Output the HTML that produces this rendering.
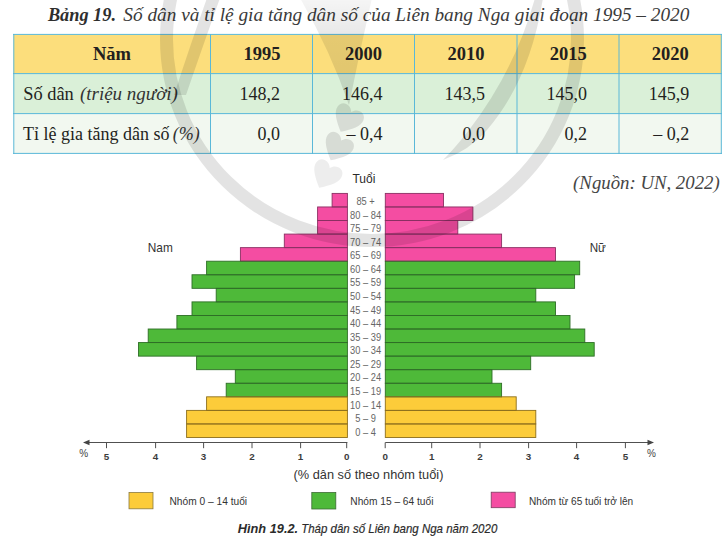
<!DOCTYPE html>
<html><head><meta charset="utf-8"><style>
html,body{margin:0;padding:0;background:#fff;}
body{width:727px;height:544px;overflow:hidden;position:relative;}
svg{position:absolute;left:0;top:0;}
.serif{font-family:"Liberation Serif","DejaVu Serif",serif;}
.sans{font-family:"Liberation Sans","DejaVu Sans",sans-serif;}
</style></head><body>
<svg width="727" height="544" viewBox="0 0 727 544">
<!-- title -->
<text class="serif" x="47.9" y="20.6" font-style="italic" fill="#2e2e2e" font-size="19.3"><tspan font-weight="bold" font-size="18.3">Bảng 19.</tspan><tspan dx="2.5" fill="#3a3a3a"> Số dân và tỉ lệ gia tăng dân số của Liên bang Nga giai đoạn 1995 – 2020</tspan></text>
<!-- table -->
<rect x="13.5" y="34.5" width="708" height="39" fill="#fcde7c"/>
<rect x="13.5" y="73.5" width="708" height="40" fill="#daf0d8"/>
<rect x="13.5" y="113.5" width="708" height="40" fill="#f2f8f0"/>
<g stroke="#5ab8d8" stroke-width="1" fill="none">
<line x1="13" y1="34.4" x2="722" y2="34.4"/>
<line x1="13" y1="73.6" x2="722" y2="73.6"/>
<line x1="13" y1="113.6" x2="722" y2="113.6"/>
<line x1="13" y1="153.4" x2="722" y2="153.4"/>
<line x1="13.8" y1="34" x2="13.8" y2="154"/>
<line x1="210.5" y1="34" x2="210.5" y2="154"/>
<line x1="312.5" y1="34" x2="312.5" y2="154"/>
<line x1="414.5" y1="34" x2="414.5" y2="154"/>
<line x1="517" y1="34" x2="517" y2="154"/>
<line x1="619" y1="34" x2="619" y2="154"/>
<line x1="721.3" y1="34" x2="721.3" y2="154"/>
</g>
<g class="serif" font-size="18" fill="#231f20">
<g font-weight="bold" text-anchor="middle" font-size="18.5">
<text x="111.9" y="59.6">Năm</text>
<text x="262.1" y="60.1">1995</text>
<text x="363.6" y="60.1">2000</text>
<text x="466" y="60.1">2010</text>
<text x="568.2" y="60.1">2015</text>
<text x="670.2" y="60.1">2020</text>
</g>
<text x="23.2" y="100.4" font-size="18.4">Số dân <tspan font-style="italic" font-size="19" dx="1.5" fill="#333">(triệu người)</tspan></text>
<text x="23" y="139.8">Tỉ lệ gia tăng dân số <tspan font-style="italic" dx="-1.3" fill="#333">(%)</tspan></text>
<g text-anchor="end">
<text x="280" y="100.4">148,2</text>
<text x="382.4" y="100.4">146,4</text>
<text x="484.9" y="100.4">143,5</text>
<text x="586.9" y="100.4">145,0</text>
<text x="689.3" y="100.4">145,9</text>
<text x="280" y="139.8">0,0</text>
<text x="382.4" y="139.8">– 0,4</text>
<text x="484.9" y="139.8">0,0</text>
<text x="586.9" y="139.8">0,2</text>
<text x="689.3" y="139.8">– 0,2</text>
</g>
</g>
<text class="serif" x="719.7" y="188.5" text-anchor="end" font-style="italic" font-size="18.8" fill="#454545">(Nguồn: UN, 2022)</text>
<!-- chart -->
<rect x="332.1" y="193.40" width="15.3" height="13.56" fill="#f44da2"/><rect x="385.3" y="193.40" width="58.2" height="13.56" fill="#f44da2"/><rect x="317.6" y="206.96" width="29.8" height="13.56" fill="#f44da2"/><rect x="385.3" y="206.96" width="87.6" height="13.56" fill="#f44da2"/><rect x="317.6" y="220.52" width="29.8" height="13.56" fill="#f44da2"/><rect x="385.3" y="220.52" width="72.5" height="13.56" fill="#f44da2"/><rect x="284.3" y="234.08" width="63.1" height="13.56" fill="#f44da2"/><rect x="385.3" y="234.08" width="116.3" height="13.56" fill="#f44da2"/><rect x="240.4" y="247.64" width="107.0" height="13.56" fill="#f44da2"/><rect x="385.3" y="247.64" width="170.2" height="13.56" fill="#f44da2"/><rect x="206.6" y="261.21" width="140.8" height="13.56" fill="#4eb939"/><rect x="385.3" y="261.21" width="194.4" height="13.56" fill="#4eb939"/><rect x="192.0" y="274.77" width="155.4" height="13.56" fill="#4eb939"/><rect x="385.3" y="274.77" width="189.3" height="13.56" fill="#4eb939"/><rect x="216.2" y="288.33" width="131.2" height="13.56" fill="#4eb939"/><rect x="385.3" y="288.33" width="150.5" height="13.56" fill="#4eb939"/><rect x="192.0" y="301.89" width="155.4" height="13.56" fill="#4eb939"/><rect x="385.3" y="301.89" width="170.2" height="13.56" fill="#4eb939"/><rect x="176.9" y="315.45" width="170.5" height="13.56" fill="#4eb939"/><rect x="385.3" y="315.45" width="184.7" height="13.56" fill="#4eb939"/><rect x="148.2" y="329.01" width="199.2" height="13.56" fill="#4eb939"/><rect x="385.3" y="329.01" width="199.5" height="13.56" fill="#4eb939"/><rect x="138.5" y="342.57" width="208.9" height="13.56" fill="#4eb939"/><rect x="385.3" y="342.57" width="208.9" height="13.56" fill="#4eb939"/><rect x="196.6" y="356.13" width="150.8" height="13.56" fill="#4eb939"/><rect x="385.3" y="356.13" width="145.4" height="13.56" fill="#4eb939"/><rect x="235.3" y="369.69" width="112.1" height="13.56" fill="#4eb939"/><rect x="385.3" y="369.69" width="106.7" height="13.56" fill="#4eb939"/><rect x="226.2" y="383.26" width="121.2" height="13.56" fill="#4eb939"/><rect x="385.3" y="383.26" width="116.3" height="13.56" fill="#4eb939"/><rect x="206.6" y="396.82" width="140.8" height="13.56" fill="#fccc3a"/><rect x="385.3" y="396.82" width="130.9" height="13.56" fill="#fccc3a"/><rect x="186.6" y="410.38" width="160.8" height="13.56" fill="#fccc3a"/><rect x="385.3" y="410.38" width="150.5" height="13.56" fill="#fccc3a"/><rect x="186.6" y="423.94" width="160.8" height="13.56" fill="#fccc3a"/><rect x="385.3" y="423.94" width="150.5" height="13.56" fill="#fccc3a"/>
<g fill="none" stroke-width="0.9"><rect x="332.1" y="193.40" width="15.3" height="13.56" stroke="#8a2f62"/><rect x="385.3" y="193.40" width="58.2" height="13.56" stroke="#8a2f62"/><rect x="317.6" y="206.96" width="29.8" height="13.56" stroke="#8a2f62"/><rect x="385.3" y="206.96" width="87.6" height="13.56" stroke="#8a2f62"/><rect x="317.6" y="220.52" width="29.8" height="13.56" stroke="#8a2f62"/><rect x="385.3" y="220.52" width="72.5" height="13.56" stroke="#8a2f62"/><rect x="284.3" y="234.08" width="63.1" height="13.56" stroke="#8a2f62"/><rect x="385.3" y="234.08" width="116.3" height="13.56" stroke="#8a2f62"/><rect x="240.4" y="247.64" width="107.0" height="13.56" stroke="#8a2f62"/><rect x="385.3" y="247.64" width="170.2" height="13.56" stroke="#8a2f62"/><rect x="206.6" y="261.21" width="140.8" height="13.56" stroke="#2e6e26"/><rect x="385.3" y="261.21" width="194.4" height="13.56" stroke="#2e6e26"/><rect x="192.0" y="274.77" width="155.4" height="13.56" stroke="#2e6e26"/><rect x="385.3" y="274.77" width="189.3" height="13.56" stroke="#2e6e26"/><rect x="216.2" y="288.33" width="131.2" height="13.56" stroke="#2e6e26"/><rect x="385.3" y="288.33" width="150.5" height="13.56" stroke="#2e6e26"/><rect x="192.0" y="301.89" width="155.4" height="13.56" stroke="#2e6e26"/><rect x="385.3" y="301.89" width="170.2" height="13.56" stroke="#2e6e26"/><rect x="176.9" y="315.45" width="170.5" height="13.56" stroke="#2e6e26"/><rect x="385.3" y="315.45" width="184.7" height="13.56" stroke="#2e6e26"/><rect x="148.2" y="329.01" width="199.2" height="13.56" stroke="#2e6e26"/><rect x="385.3" y="329.01" width="199.5" height="13.56" stroke="#2e6e26"/><rect x="138.5" y="342.57" width="208.9" height="13.56" stroke="#2e6e26"/><rect x="385.3" y="342.57" width="208.9" height="13.56" stroke="#2e6e26"/><rect x="196.6" y="356.13" width="150.8" height="13.56" stroke="#2e6e26"/><rect x="385.3" y="356.13" width="145.4" height="13.56" stroke="#2e6e26"/><rect x="235.3" y="369.69" width="112.1" height="13.56" stroke="#2e6e26"/><rect x="385.3" y="369.69" width="106.7" height="13.56" stroke="#2e6e26"/><rect x="226.2" y="383.26" width="121.2" height="13.56" stroke="#2e6e26"/><rect x="385.3" y="383.26" width="116.3" height="13.56" stroke="#2e6e26"/><rect x="206.6" y="396.82" width="140.8" height="13.56" stroke="#8c6e1c"/><rect x="385.3" y="396.82" width="130.9" height="13.56" stroke="#8c6e1c"/><rect x="186.6" y="410.38" width="160.8" height="13.56" stroke="#8c6e1c"/><rect x="385.3" y="410.38" width="150.5" height="13.56" stroke="#8c6e1c"/><rect x="186.6" y="423.94" width="160.8" height="13.56" stroke="#8c6e1c"/><rect x="385.3" y="423.94" width="150.5" height="13.56" stroke="#8c6e1c"/></g>
<g class="sans" font-size="10" fill="#666" text-anchor="middle"><text transform="translate(365.6,205.08) scale(0.93,1)">85 +</text><text transform="translate(365.6,218.64) scale(0.93,1)">80 – 84</text><text transform="translate(365.6,232.20) scale(0.93,1)">75 – 79</text><text transform="translate(365.6,245.76) scale(0.93,1)">70 – 74</text><text transform="translate(365.6,259.32) scale(0.93,1)">65 – 69</text><text transform="translate(365.6,272.89) scale(0.93,1)">60 – 64</text><text transform="translate(365.6,286.45) scale(0.93,1)">55 – 59</text><text transform="translate(365.6,300.01) scale(0.93,1)">50 – 54</text><text transform="translate(365.6,313.57) scale(0.93,1)">45 – 49</text><text transform="translate(365.6,327.13) scale(0.93,1)">40 – 44</text><text transform="translate(365.6,340.69) scale(0.93,1)">35 – 39</text><text transform="translate(365.6,354.25) scale(0.93,1)">30 – 34</text><text transform="translate(365.6,367.81) scale(0.93,1)">25 – 29</text><text transform="translate(365.6,381.38) scale(0.93,1)">20 – 24</text><text transform="translate(365.6,394.94) scale(0.93,1)">15 – 19</text><text transform="translate(365.6,408.50) scale(0.93,1)">10 – 14</text><text transform="translate(365.6,422.06) scale(0.93,1)">5 – 9</text><text transform="translate(365.6,435.62) scale(0.93,1)">0 – 4</text></g>
<text class="sans" x="363.9" y="183.3" font-size="12" fill="#2b2b2b" text-anchor="middle">Tuổi</text>
<text class="sans" x="160.3" y="252.2" font-size="12.2" fill="#333" text-anchor="middle" textLength="25" lengthAdjust="spacingAndGlyphs">Nam</text>
<text class="sans" x="597.8" y="252.3" font-size="12.2" fill="#333" text-anchor="middle" textLength="16.2" lengthAdjust="spacingAndGlyphs">Nữ</text>
<!-- axis -->
<g stroke="#505050" stroke-width="1" fill="none">
<line x1="88" y1="442.5" x2="347.4" y2="442.5"/>
<line x1="385.3" y1="442.5" x2="649" y2="442.5"/>
<line x1="346.7" y1="442.5" x2="346.7" y2="448.2"/><line x1="385.2" y1="442.5" x2="385.2" y2="448.2"/><line x1="300.6" y1="442.5" x2="300.6" y2="448.2"/><line x1="431.7" y1="442.5" x2="431.7" y2="448.2"/><line x1="252.0" y1="442.5" x2="252.0" y2="448.2"/><line x1="480.0" y1="442.5" x2="480.0" y2="448.2"/><line x1="203.6" y1="442.5" x2="203.6" y2="448.2"/><line x1="528.6" y1="442.5" x2="528.6" y2="448.2"/><line x1="155.6" y1="442.5" x2="155.6" y2="448.2"/><line x1="576.6" y1="442.5" x2="576.6" y2="448.2"/><line x1="106.5" y1="442.5" x2="106.5" y2="448.2"/><line x1="625.4" y1="442.5" x2="625.4" y2="448.2"/>
</g>
<path d="M83 442.5 L89.5 439.8 L89.5 445.2 Z" fill="#444"/>
<path d="M654 442.5 L647.5 439.8 L647.5 445.2 Z" fill="#444"/>
<g class="sans" font-size="9.8" font-weight="bold" fill="#3c3c3c" text-anchor="middle"><text x="346.7" y="459.8">0</text><text x="385.2" y="459.8">0</text><text x="300.6" y="459.8">1</text><text x="431.7" y="459.8">1</text><text x="252.0" y="459.8">2</text><text x="480.0" y="459.8">2</text><text x="203.6" y="459.8">3</text><text x="528.6" y="459.8">3</text><text x="155.6" y="459.8">4</text><text x="576.6" y="459.8">4</text><text x="106.5" y="459.8">5</text><text x="625.4" y="459.8">5</text></g>
<text class="sans" x="83.8" y="457" font-size="10" fill="#444" text-anchor="middle">%</text>
<text class="sans" x="651.5" y="457" font-size="10" fill="#444" text-anchor="middle">%</text>
<text class="sans" x="293.6" y="479.3" font-size="12" fill="#333" textLength="149.8" lengthAdjust="spacingAndGlyphs">(% dân số theo nhóm tuổi)</text>
<!-- legend -->
<rect x="129" y="492.5" width="24" height="16.3" fill="#fccc3a" stroke="#8a7a40" stroke-width="0.8"/>
<rect x="311.8" y="492.5" width="24" height="16.5" fill="#4eb939" stroke="#3d6b35" stroke-width="0.8"/>
<rect x="491.2" y="492.2" width="24" height="15.5" fill="#f44da2" stroke="#7a3d60" stroke-width="0.8"/>
<g class="sans" font-size="10.6" fill="#333">
<text x="169.5" y="505" textLength="77.6" lengthAdjust="spacingAndGlyphs">Nhóm 0 – 14 tuổi</text>
<text x="350.3" y="505" textLength="83.1" lengthAdjust="spacingAndGlyphs">Nhóm 15 – 64 tuổi</text>
<text x="529" y="505" textLength="104.2" lengthAdjust="spacingAndGlyphs">Nhóm từ 65 tuổi trở lên</text>
</g>
<text class="sans" x="237.8" y="532.5" font-size="13.2" font-style="italic" fill="#2b2b2b"><tspan font-weight="bold" textLength="60.3" lengthAdjust="spacingAndGlyphs">Hình 19.2.</tspan><tspan x="301.2" textLength="196.1" lengthAdjust="spacingAndGlyphs" stroke="#2b2b2b" stroke-width="0.2">Tháp dân số Liên bang Nga năm 2020</tspan></text>
<!-- watermark -->
<defs><linearGradient id="wg" x1="0" y1="0" x2="0" y2="105" gradientUnits="userSpaceOnUse"><stop offset="0" stop-color="#000" stop-opacity="0.04"/><stop offset="0.33" stop-color="#000" stop-opacity="0.09"/><stop offset="1" stop-color="#000" stop-opacity="0.12"/></linearGradient></defs>
<g fill="#000" fill-opacity="0.11" stroke="none">
<ellipse cx="372" cy="39" rx="205.5" ry="201.5" fill="none" stroke="#000" stroke-opacity="0.11" stroke-width="13"/>
<path d="M 207 -2 L 220 -2 Q 205 40 186 95 L 174 95 Q 192 40 207 -2 Z"/>
<path d="M 543 -2 Q 530 80 487 130 Q 470 150 443 160 Q 455 148 469 130 Q 515 70 535 -2 Z"/>
<path fill="url(#wg)" fill-opacity="1" d="M 300 -2 L 372 -2 Q 360 50 349 105 Q 330 50 300 -2 Z"/>
<g transform="translate(347.5,119) rotate(28) scale(1.12)"><path d="M 0 13 C -8 6 -14 0 -13 -6 C -12 -13 -3 -13 0 -7 C 3 -13 12 -13 13 -6 C 14 0 8 6 0 13 Z"/></g>
<g transform="translate(337.5,147.5) rotate(28) scale(1.12)"><path d="M 0 13 C -8 6 -14 0 -13 -6 C -12 -13 -3 -13 0 -7 C 3 -13 12 -13 13 -6 C 14 0 8 6 0 13 Z"/></g>
<g transform="translate(326,175) rotate(28) scale(1.12)" fill-opacity="0.07"><path d="M 0 13 C -8 6 -14 0 -13 -6 C -12 -13 -3 -13 0 -7 C 3 -13 12 -13 13 -6 C 14 0 8 6 0 13 Z"/></g>
</g>
</svg>
</body></html>
